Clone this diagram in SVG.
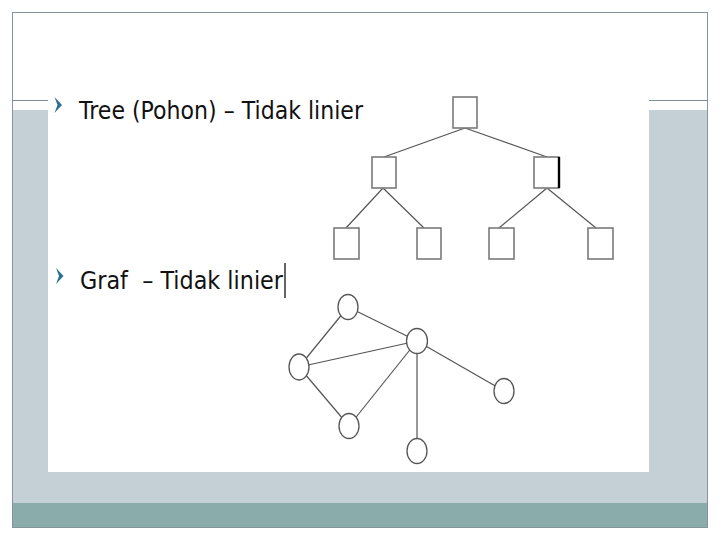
<svg xmlns="http://www.w3.org/2000/svg" width="720" height="540" viewBox="0 0 720 540">
  <style>
    .box { fill: #ffffff; stroke: #7a7a7a; stroke-width: 1.6; }
    .circ { fill: #ffffff; stroke: #555555; stroke-width: 1.3; }
    .edge { stroke: #555555; stroke-width: 1.2; fill: none; }
    .lbl { font-family: "DejaVu Sans", Verdana, sans-serif; font-size: 25.5px; fill: #111111; }
    .bullet { fill: #2b6f90; }
  </style>
  <!-- slide background -->
  <rect x="0" y="0" width="720" height="540" fill="#ffffff"/>
  <rect x="12" y="110" width="696" height="393" fill="#c4d0d6"/>
  <rect x="12" y="503" width="696" height="25" fill="#8aacab"/>
  <rect x="12.5" y="12.5" width="695" height="515" fill="none" stroke="#85959b" stroke-width="1"/>
  <line x1="12" y1="100.5" x2="48" y2="100.5" stroke="#7f8d93" stroke-width="1.2"/>
  <line x1="649" y1="100.5" x2="708" y2="100.5" stroke="#7f8d93" stroke-width="1.2"/>
  <rect x="48" y="85" width="601" height="387" fill="#ffffff"/>

  <!-- labels -->
  <g id="label-tree">
    <path class="bullet" d="M54.5,97 L62,105 L54.5,113 L57.5,105 Z"/>
    <text class="lbl" x="79" y="118.5" textLength="284" lengthAdjust="spacingAndGlyphs">Tree (Pohon) – Tidak linier</text>
  </g>
  <g id="label-graf">
    <path class="bullet" d="M56,268 L63.5,276 L56,284 L59,276 Z"/>
    <text class="lbl" x="80" y="288.5" textLength="203" lengthAdjust="spacingAndGlyphs" xml:space="preserve">Graf  – Tidak linier</text>
    <line x1="285" y1="263" x2="285" y2="298" stroke="#111111" stroke-width="1.3"/>
  </g>

  <!-- connectors -->
  <g id="connectors">
    <line class="edge" x1="465" y1="128" x2="384" y2="157"/>
    <line class="edge" x1="465" y1="128" x2="547" y2="157"/>
    <line class="edge" x1="383" y1="188" x2="346" y2="228"/>
    <line class="edge" x1="383" y1="188" x2="424" y2="228"/>
    <line class="edge" x1="547" y1="188" x2="499" y2="228"/>
    <line class="edge" x1="547" y1="188" x2="596" y2="228"/>

    <line class="edge" x1="348" y1="307" x2="299" y2="367"/>
    <line class="edge" x1="348" y1="307" x2="417" y2="341"/>
    <line class="edge" x1="299" y1="367" x2="417" y2="341"/>
    <line class="edge" x1="299" y1="367" x2="349" y2="426"/>
    <line class="edge" x1="349" y1="426" x2="417" y2="341"/>
    <line class="edge" x1="417" y1="341" x2="504" y2="391"/>
    <line class="edge" x1="417" y1="341" x2="417" y2="451"/>
  </g>

  <!-- tree nodes -->
  <g id="t-root"><rect class="box" x="453" y="97" width="24" height="31"/></g>
  <g id="t-l"><rect class="box" x="372" y="157" width="24" height="31"/></g>
  <g id="t-r"><rect class="box" x="534" y="157" width="25" height="31"/><line x1="559" y1="157" x2="559" y2="188" stroke="#000000" stroke-width="2.4"/></g>
  <g id="t-ll"><rect class="box" x="334" y="228" width="25" height="31"/></g>
  <g id="t-lr"><rect class="box" x="417" y="228" width="24" height="31"/></g>
  <g id="t-rl"><rect class="box" x="489" y="228" width="25" height="31"/></g>
  <g id="t-rr"><rect class="box" x="588" y="228" width="25" height="31"/></g>

  <!-- graph nodes -->
  <g id="g-top"><ellipse class="circ" cx="348" cy="307" rx="10" ry="12.5"/></g>
  <g id="g-hub"><ellipse class="circ" cx="417" cy="341" rx="10.5" ry="12.5"/></g>
  <g id="g-left"><ellipse class="circ" cx="299" cy="367" rx="10" ry="13"/></g>
  <g id="g-bottomleft"><ellipse class="circ" cx="349" cy="426" rx="10" ry="12.5"/></g>
  <g id="g-right"><ellipse class="circ" cx="504" cy="391" rx="10" ry="12.5"/></g>
  <g id="g-bottom"><ellipse class="circ" cx="417" cy="451" rx="10" ry="12.5"/></g>
</svg>
